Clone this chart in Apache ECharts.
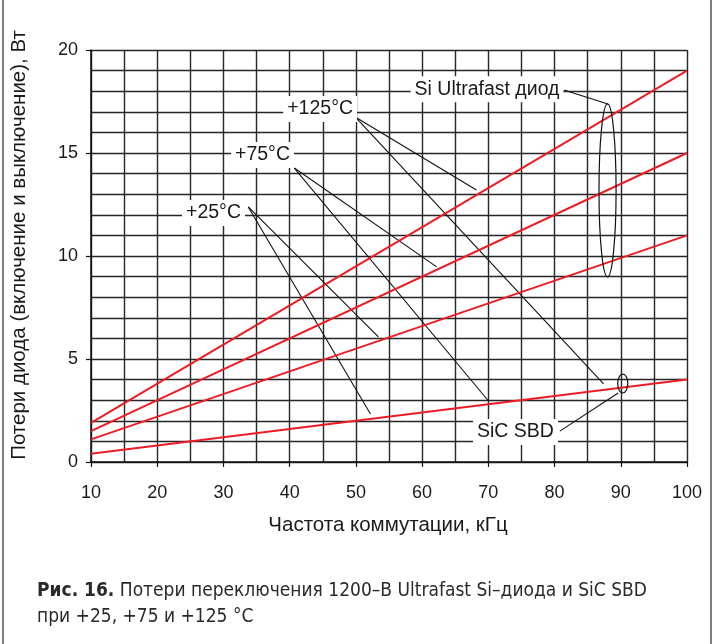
<!DOCTYPE html>
<html><head><meta charset="utf-8">
<script src="https://cdn.jsdelivr.net/npm/echarts@6/dist/echarts.min.js"></script>
<style>html,body{margin:0;padding:0;background:#fff}#c{width:716px;height:644px}</style>
</head><body><div id="c"></div>
<script>
// ---- data ----
const freqKHz = [10, 100];
const siUltrafast125 = [1.9, 19];
const siUltrafast75 = [1.5, 15];
const siUltrafast25 = [1.1, 11];
const sicSBD = [0.4, 4];

const xTicks = [10, 20, 30, 40, 50, 60, 70, 80, 90, 100];
const yTicks = [0, 5, 10, 15, 20];

// annotation labels (data coordinates = label centre)
const labelTexts = ['+125°C', '+75°C', '+25°C', 'Si Ultrafast диод', 'SiC SBD'];
const labelX = [44.6, 35.9, 28.5, 69.8, 74.1];
const labelY = [17.14, 14.9, 12.09, 18.1, 1.46];

// leader lines: start (x,y) -> end (x,y), data coordinates
const leaderX1 = [49.9, 49.9, 40.7, 40.7, 33.75, 33.75, 81.4, 80.8];
const leaderY1 = [16.75, 16.75, 14.27, 14.27, 12.38, 12.38, 18.06, 1.50];
const leaderX2 = [68.2, 87.4, 62.2, 69.9, 53.4, 52.2, 88.05, 89.6];
const leaderY2 = [13.2, 3.79, 9.47, 3.01, 6.07, 2.33, 17.38, 3.35];

// ellipses: centre and half-axes, data units
const ellipseCx = [88.0, 90.3];
const ellipseCy = [13.18, 3.81];
const ellipseRx = [1.29, 0.76];
const ellipseRy = [4.2, 0.46];

const FONT = "'Liberation Sans', Arial, Helvetica, sans-serif";
const RED = '#ec1c24';
const GRID = '#262626';

function pairs(xs, ys) { return xs.map((x, i) => [x, ys[i]]); }

const chart = echarts.init(document.getElementById('c'), null, {renderer: 'canvas'});

const series = [];
for (let i = 0; i < leaderX1.length; i++) {
  series.push({
    type: 'line', symbol: 'none', silent: true, z: 3,
    data: [[leaderX1[i], leaderY1[i]], [leaderX2[i], leaderY2[i]]],
    lineStyle: {color: '#111', width: 1.1}
  });
}
[siUltrafast125, siUltrafast75, siUltrafast25, sicSBD].forEach(v => {
  series.push({
    type: 'line', symbol: 'none', silent: true, z: 4,
    data: pairs(freqKHz, v),
    lineStyle: {color: RED, width: 2}
  });
});

chart.setOption({
  animation: false,
  backgroundColor: '#fff',
  grid: {left: 91, right: 29, top: 50, bottom: 182},
  xAxis: {
    type: 'value', min: xTicks[0], max: xTicks[xTicks.length - 1], interval: 10,
    axisLine: {show: true, lineStyle: {color: '#111', width: 1.5}},
    axisTick: {show: true, inside: false, length: 5, lineStyle: {color: '#111', width: 1.2}},
    axisLabel: {color: '#1a1a1a', fontSize: 18, fontFamily: FONT, margin: 22},
    splitLine: {show: true, lineStyle: {color: GRID, width: 1.4}},
    minorTick: {show: false, splitNumber: 2},
    minorSplitLine: {show: true, lineStyle: {color: GRID, width: 1.4}}
  },
  yAxis: {
    type: 'value', min: yTicks[0], max: yTicks[yTicks.length - 1], interval: 5,
    axisLine: {show: true, lineStyle: {color: '#111', width: 1.5}},
    axisTick: {show: true, inside: false, length: 5, lineStyle: {color: '#111', width: 1.2}},
    axisLabel: {color: '#1a1a1a', fontSize: 18, fontFamily: FONT, margin: 13},
    splitLine: {show: true, lineStyle: {color: GRID, width: 1.4}},
    minorTick: {show: false, splitNumber: 5},
    minorSplitLine: {show: true, lineStyle: {color: GRID, width: 1.4}}
  },
  series: series
});

const P = (x, y) => chart.convertToPixel({gridIndex: 0}, [x, y]);
const graphics = [];

// labels with white boxes
labelTexts.forEach((t, i) => {
  const p = P(labelX[i], labelY[i]);
  graphics.push({
    type: 'text', x: p[0], y: p[1], z: 10,
    style: {
      text: t, fill: '#1a1a1a', font: '19.5px ' + FONT,
      align: 'center', verticalAlign: 'middle',
      backgroundColor: '#fff', padding: [3, 4]
    }
  });
});

// ellipses
ellipseCx.forEach((cx, i) => {
  const c = P(cx, ellipseCy[i]);
  const e = P(cx + ellipseRx[i], ellipseCy[i] + ellipseRy[i]);
  graphics.push({
    type: 'ellipse', z: 9,
    shape: {cx: c[0], cy: c[1], rx: Math.abs(e[0] - c[0]), ry: Math.abs(e[1] - c[1])},
    style: {fill: null, stroke: '#111', lineWidth: 1.2}
  });
});

// axis titles
graphics.push({
  type: 'text', x: 388, y: 525, z: 10,
  style: {text: 'Частота коммутации, кГц', fill: '#1a1a1a', font: '20.5px ' + FONT,
          align: 'center', verticalAlign: 'middle'}
});
graphics.push({
  type: 'text', x: 19, y: 245, rotation: Math.PI / 2, z: 10,
  style: {text: 'Потери диода (включение и выключение), Вт', fill: '#1a1a1a', font: '20.5px ' + FONT,
          align: 'center', verticalAlign: 'middle'}
});

// frame
graphics.push({type: 'line', z: 1, shape: {x1: 3, y1: 0, x2: 3, y2: 644}, style: {stroke: '#555', lineWidth: 1.5}});
graphics.push({type: 'line', z: 1, shape: {x1: 711, y1: 0, x2: 711, y2: 644}, style: {stroke: '#555', lineWidth: 1.5}});

// caption
const CAPFONT = "'Liberation Sans Narrow', 'DejaVu Sans Condensed', 'Roboto Condensed', " + FONT;
graphics.push({
  type: 'text', x: 37, y: 578, z: 10,
  style: {
    text: '{b|Рис. 16.} Потери переключения 1200–В Ultrafast Si–диода и SiC SBD\nпри +25, +75 и +125 °С',
    fill: '#2a2a2a', font: '19px ' + CAPFONT, lineHeight: 26,
    rich: {b: {fontWeight: 'bold', fontSize: 19, fontFamily: CAPFONT, fill: '#2a2a2a'}}
  }
});

chart.setOption({graphic: graphics});
</script>
</body></html>
